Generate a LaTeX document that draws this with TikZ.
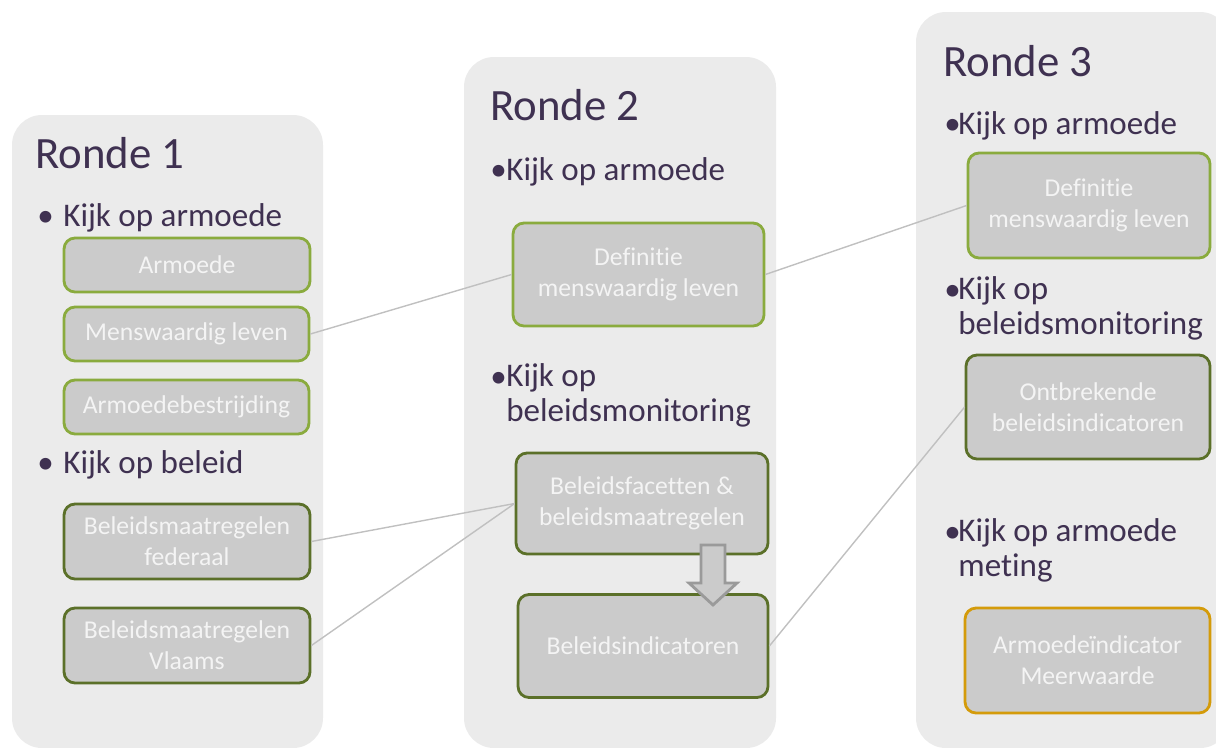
\documentclass[tikz,border=0pt]{standalone}
\usepackage{fontspec}
\setmainfont[Ligatures=NoCommon]{Carlito}
\usepackage{tikz}
\usetikzlibrary{arrows,shapes,calc,positioning}
\definecolor{panelgray}{HTML}{EBEBEB}
\definecolor{boxgray}{HTML}{CBCBCB}
\definecolor{boxtext}{HTML}{F4F4F4}
\definecolor{lightgreen}{HTML}{8AAB3E}
\definecolor{darkgreen}{HTML}{5B7029}
\definecolor{goldline}{HTML}{D49B0A}
\definecolor{ink}{HTML}{3F3151}
\definecolor{linkgray}{HTML}{C0C0C0}
\definecolor{arrowgray}{HTML}{9A9A9A}
\tikzstyle{panel}    =[fill=panelgray, draw=none, rounded corners=0.6cm]
\tikzstyle{ronde}    =[anchor=base west, text=ink, inner sep=0pt,
                       font=\fontsize{25.5}{30}\selectfont]
\tikzstyle{kijk}     =[anchor=base west, text=ink, inner sep=0pt,
                       align=left, font=\fontsize{18.8}{19.5}\selectfont]
\tikzstyle{box}      =[rectangle, rounded corners=0.22cm, fill=boxgray,
                       line width=1.6pt, text=boxtext, align=center,
                       inner sep=0pt, font=\fontsize{14.6}{17.8}\selectfont]
\tikzstyle{greenbox} =[box, draw=lightgreen]
\tikzstyle{olivebox} =[box, draw=darkgreen]
\tikzstyle{goldbox}  =[box, draw=goldline]
\tikzstyle{link}     =[draw=linkgray, line width=0.8pt]
\begin{document}
\begin{tikzpicture}[x=0.02cm, y=-0.02cm]
    \clip (0,0) rectangle (1216,747);

    % panels
    \fill[panel] (12,115) rectangle (323,748);
    \fill[panel] (464,57) rectangle (776,748);
    \fill[panel] (916,12) rectangle (1230,748);

    % ronde 1
    \node[ronde] (r1) at (35,168) {Ronde 1};
    \node[kijk] (d1a) at (37,226) {\textbullet};
    \node[kijk] (k1a) at (63,226) {Kijk op armoede};
    \node[kijk] (d1b) at (37,473) {\textbullet};
    \node[kijk] (k1b) at (63,473) {Kijk op beleid};
    \node[greenbox, minimum width=4.92cm, minimum height=1.08cm] (arm) at (187,265) {Armoede};
    \node[greenbox, minimum width=4.9cm, minimum height=1.08cm] (mens) at (186.5,334) {Menswaardig leven};
    \node[greenbox, minimum width=4.9cm, minimum height=1.08cm] (bestr) at (186.5,407) {Armoedebestrijding};
    \node[olivebox, minimum width=4.92cm, minimum height=1.5cm] (fed) at (187,541.5) {Beleidsmaatregelen\\federaal};
    \node[olivebox, minimum width=4.92cm, minimum height=1.5cm] (vla) at (187,645.5) {Beleidsmaatregelen\\Vlaams};

    % ronde 2 (multi-line texts sit on their last baseline)
    \node[ronde] (r2) at (490,120) {Ronde 2};
    \node[kijk] (d2a) at (490,180) {\textbullet};
    \node[kijk] (k2a) at (506,180) {Kijk op armoede};
    \node[kijk] (d2b) at (490,387) {\textbullet};
    \node[kijk] (k2b) at (506,421) {Kijk op\\beleidsmonitoring};
    \node[greenbox, minimum width=5.02cm, minimum height=2.06cm] (def2) at (638.5,274.5) {Definitie\\menswaardig leven};
    \node[olivebox, minimum width=5.04cm, minimum height=2.02cm] (fac) at (642,503.5) {Beleidsfacetten \&\\beleidsmaatregelen};
    \node[olivebox, minimum width=5.0cm, minimum height=2.06cm] (ind) at (643,646) {Beleidsindicatoren};
    \filldraw[fill=boxgray, draw=arrowgray, line width=1.6pt]
        (701,545) -- (725,545) -- (725,583) -- (737,583) -- (713,605)
        -- (689,583) -- (701,583) -- cycle;

    % ronde 3
    \node[ronde] (r3) at (943,76) {Ronde 3};
    \node[kijk] (d3a) at (944,134) {\textbullet};
    \node[kijk] (k3a) at (958,134) {Kijk op armoede};
    \node[kijk] (d3b) at (944,300) {\textbullet};
    \node[kijk] (k3b) at (958,334) {Kijk op\\beleidsmonitoring};
    \node[kijk] (d3c) at (944,542) {\textbullet};
    \node[kijk] (k3c) at (958,576) {Kijk op armoede\\meting};
    \node[greenbox, minimum width=4.84cm, minimum height=2.1cm] (def3) at (1089,205.5) {Definitie\\menswaardig leven};
    \node[olivebox, minimum width=4.88cm, minimum height=2.08cm] (ontbr) at (1088,407) {Ontbrekende\\beleidsindicatoren};
    \node[goldbox, minimum width=4.9cm, minimum height=2.1cm] (meer) at (1087.5,660.5) {Armoedeïndicator\\Meerwaarde};

    % links
    \draw[link] (mens.east) -- (def2.west);
    \draw[link] (fed.east) -- (fac.west);
    \draw[link] (vla.east) -- (fac.west);
    \draw[link] (def2.east) -- (def3.west);
    \draw[link] (ind.east) -- (ontbr.west);
\end{tikzpicture}
\end{document}
